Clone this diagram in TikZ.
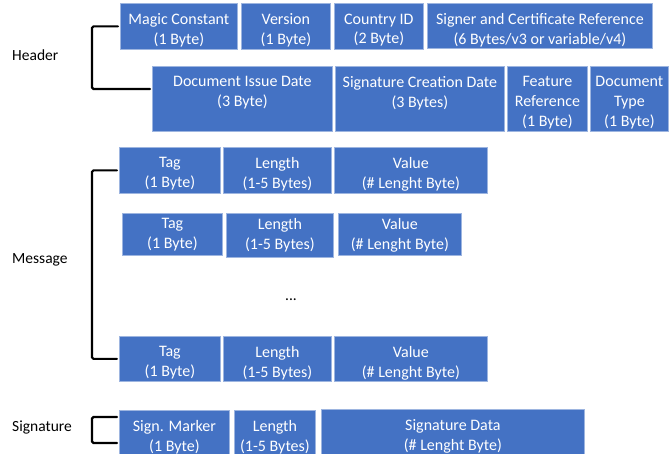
\documentclass[tikz,border=0pt]{standalone}
\usepackage{fontspec}
\setmainfont{Carlito}
\definecolor{boxblue}{HTML}{4472C4}
\definecolor{boxedge}{HTML}{9DB5E0}
\tikzset{
  blk/.style={draw=boxedge, line width=0.8pt, fill=boxblue, inner sep=0pt, anchor=north west},
  txt/.style={text=white, align=center, inner sep=0pt, anchor=north, font=\fontsize{16}{19.6}\selectfont},
  sect/.style={text=black, inner sep=0pt, anchor=west, font=\fontsize{15.5}{19.5}\selectfont},
  brk/.style={line width=2.2pt, rounded corners=1.5pt, line cap=round}
}
\newcommand\blk[7][10.5]{%
  \node[blk, minimum width={#5pt-#3pt}, minimum height={#6pt-#4pt}] (#2) at (#3,#4) {};
  \node[txt] (#2t) at ([yshift=-#1pt]#2.north) {#7};}
\begin{document}
\begin{tikzpicture}[x=1pt,y=-1pt]
\useasboundingbox (0,0) rectangle (670,454);
\clip (0,0) rectangle (670,454);
% header
\blk{magic}{120}{3}{237}{49}{Magic Constant\\(1 Byte)}
\blk{version}{241}{3}{330}{49}{Version\\(1 Byte)}
\blk{country}{334}{3}{423}{49}{Country ID\\(2 Byte)}
\blk{signer}{427}{3}{652}{48}{Signer and Certificate Reference\\(6 Bytes/v3 or variable/v4)}
\blk{issue}{152}{66}{332}{131}{Document Issue Date\\(3 Byte)}
\blk{sigdate}{335}{66}{504}{131}{Signature Creation Date\\(3 Bytes)}
\blk{feature}{507}{66}{587}{131}{Feature\\Reference\\(1 Byte)}
\blk{doctype}{590}{66}{668}{131}{Document\\Type\\(1 Byte)}
% message
\blk{tagA}{119}{147}{220}{193}{Tag\\(1 Byte)}
\blk{lenA}{223}{147}{331}{193}{Length\\(1-5 Bytes)}
\blk{valA}{334}{147}{487}{193}{Value\\(\# Lenght Byte)}
\blk[5.5]{tagB}{122}{213}{222}{255}{Tag\\(1 Byte)}
\blk[5.5]{lenB}{226}{213}{333}{257}{Length\\(1-5 Bytes)}
\blk[5.5]{valB}{338}{213}{461}{255}{Value\\(\# Lenght Byte)}
\node[text=black, inner sep=0pt, font=\fontsize{15.5}{19.5}\selectfont] (dots) at (291,300) {...};
\blk{tagC}{119}{336}{220}{381}{Tag\\(1 Byte)}
\blk{lenC}{223}{336}{331}{381}{Length\\(1-5 Bytes)}
\blk{valC}{334}{336}{487}{381}{Value\\(\# Lenght Byte)}
% signature
\blk{smark}{119}{410}{229}{462}{Sign. Marker\\(1 Byte)}
\blk{slen}{234}{410}{315}{462}{Length\\(1-5 Bytes)}
\blk{sdata}{321}{409}{584}{462}{Signature Data\\(\# Lenght Byte)}
% section labels
\node[sect] (header) at (12,55) {Header};
\node[sect] (message) at (12,260) {Message};
\node[sect] (signature) at (12,428) {Signature};
% brackets
\coordinate (hb) at (150,89);
\coordinate (sa) at (117,417);
\coordinate (sb) at (117,443);
\draw[brk] ([xshift=-2pt]magic.west) -- ++(-26,0) |- (hb);
\draw[brk] ([xshift=-2pt]tagA.west) -- ++(-25,0) |- ([xshift=-2pt]tagC.west);
\draw[brk] (sa) -- ++(-25,0) |- (sb);
\end{tikzpicture}
\end{document}
